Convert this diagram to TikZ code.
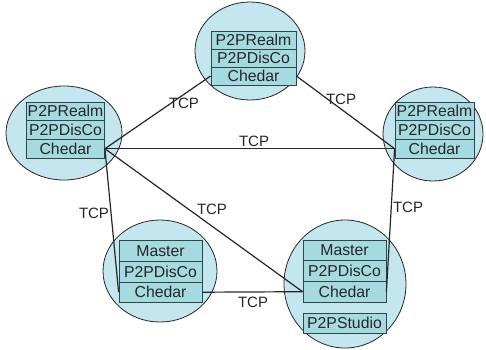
\documentclass[tikz,border=0pt]{standalone}
\usepackage{fontspec}
\setmainfont{Liberation Sans}

\definecolor{peerfill}{RGB}{196,230,238}
\definecolor{rowfill}{RGB}{166,218,225}
\definecolor{rowline}{RGB}{45,70,75}

\begin{document}
\begin{tikzpicture}[x=1pt, y=-1pt,
  peer/.style={draw=black!85, fill=peerfill, line width=0.8pt},
  row/.style={draw=rowline, fill=rowfill, line width=0.8pt, inner sep=0pt,
    font=\fontsize{15.8}{17}\selectfont, text=black!85},
  link/.style={draw=black!85, line width=1.2pt},
  tcp/.style={font=\fontsize{15}{17}\selectfont, text=black!85, inner sep=1pt}]
  \useasboundingbox (0,0) rectangle (486,349);

  % peers
  \draw[peer] (250,51) ellipse [x radius=55, y radius=49];
  \draw[peer] (64,133) ellipse [x radius=58, y radius=47];
  \draw[peer] (433,134) ellipse [x radius=50, y radius=47];
  \draw[peer] (160,271) ellipse [x radius=57, y radius=51];
  \draw[peer] (345,284) ellipse [x radius=61, y radius=64];

  % top stack
  \def\rh{18}
  \node[row, minimum width=85, minimum height=\rh] (tRealm) at (253.5,40) {P2PRealm};
  \node[row, minimum width=85, minimum height=\rh] (tDisCo) at (253.5,58) {P2PDisCo};
  \node[row, minimum width=85, minimum height=\rh] (tChedar) at (253.5,76) {Chedar};

  % left stack
  \def\rh{18.7}
  \node[row, minimum width=78, minimum height=\rh] (lRealm) at (65.5,111.3) {P2PRealm};
  \node[row, minimum width=78, minimum height=\rh] (lDisCo) at (65.5,130) {P2PDisCo};
  \node[row, minimum width=78, minimum height=\rh] (lChedar) at (65.5,148.7) {Chedar};

  % right stack
  \node[row, minimum width=79, minimum height=\rh] (rRealm) at (434.5,111.3) {P2PRealm};
  \node[row, minimum width=79, minimum height=\rh] (rDisCo) at (434.5,130) {P2PDisCo};
  \node[row, minimum width=79, minimum height=\rh] (rChedar) at (434.5,148.7) {Chedar};

  % bottom left stack
  \def\rh{20.6}
  \node[row, minimum width=83, minimum height=\rh] (blMaster) at (160.5,251) {Master};
  \node[row, minimum width=83, minimum height=\rh] (blDisCo) at (160.5,271.6) {P2PDisCo};
  \node[row, minimum width=83, minimum height=\rh] (blChedar) at (160.5,292.2) {Chedar};

  % bottom right stack
  \node[row, minimum width=83, minimum height=\rh] (brMaster) at (344.5,250.5) {Master};
  \node[row, minimum width=83, minimum height=\rh] (brDisCo) at (344.5,271.1) {P2PDisCo};
  \node[row, minimum width=83, minimum height=\rh] (brChedar) at (344.5,291.7) {Chedar};
  \node[row, minimum width=83, minimum height=20] (brStudio) at (344.5,323) {P2PStudio};

  % links
  \draw[link] (lChedar.east) -- (tChedar.west);
  \draw[link] (lChedar.east) -- (rChedar.west);
  \draw[link] (lChedar.east) -- (brChedar.west);
  \draw[link] (lChedar.east) -- (blChedar.west);
  \draw[link] (tChedar.east) -- (rChedar.west);
  \draw[link] (rChedar.west) -- (brChedar.east);
  \draw[link] (blChedar.east) -- (brChedar.west);

  % labels
  \node[tcp] (tcpA) at (184,103) {TCP};
  \node[tcp] (tcpB) at (341,99) {TCP};
  \node[tcp] (tcpC) at (254,141) {TCP};
  \node[tcp] (tcpD) at (94,213) {TCP};
  \node[tcp] (tcpE) at (212,209) {TCP};
  \node[tcp] (tcpF) at (253,302) {TCP};
  \node[tcp] (tcpG) at (408,207) {TCP};
\end{tikzpicture}
\end{document}
